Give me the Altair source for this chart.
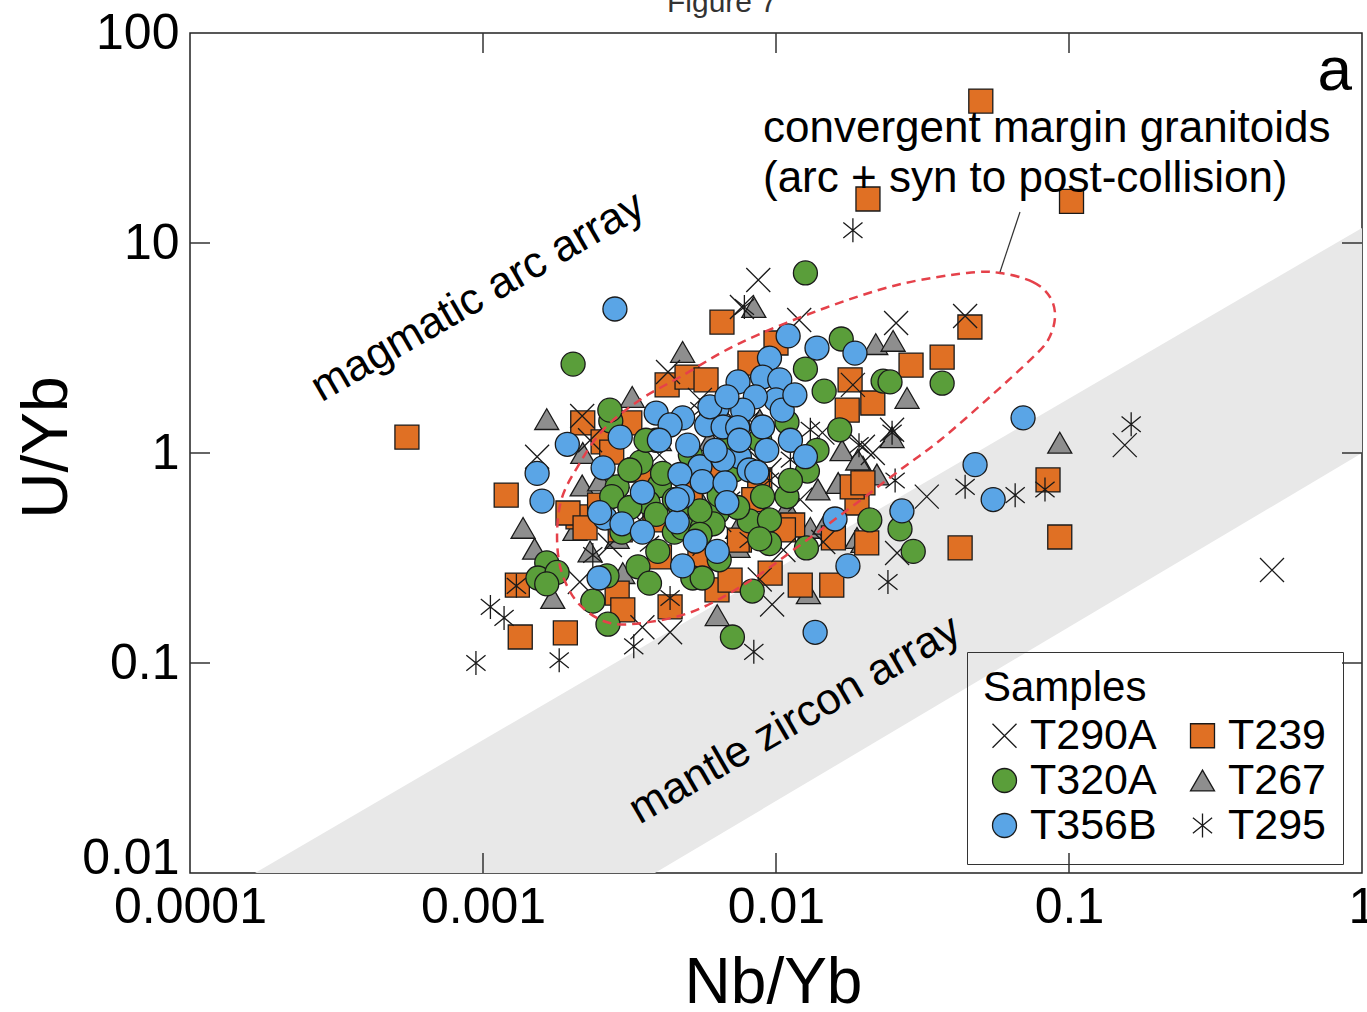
import altair as alt
import pandas as pd

# ---------------- data ----------------
T267_x = [0.00165, 0.00323, 0.0048, 0.0084, 0.0219, 0.0251, 0.028, 0.0249, 0.093, 0.00219,
          0.00218, 0.00137, 0.0015, 0.00173, 0.00206, 0.00287, 0.0030, 0.00232, 0.0063, 0.0168,
          0.0198, 0.0221, 0.0139, 0.0163, 0.0131, 0.0147, 0.0189, 0.0129, 0.00742, 0.0109,
          0.0198, 0.019, 0.0074, 0.0040, 0.0055, 0.00595, 0.0034, 0.0064, 0.0088, 0.0025]
T267_y = [1.45, 1.85, 3.03, 4.96, 3.30, 3.42, 1.83, 1.19, 1.12, 1.0,
          0.70, 0.44, 0.35, 0.204, 0.43, 0.394, 0.268, 0.34, 0.169, 1.03,
          0.86, 0.79, 0.67, 0.72, 0.44, 0.46, 0.394, 0.215, 0.357, 0.55,
          0.377, 0.93, 0.44, 1.15, 0.60, 1.15, 0.60, 0.60, 1.44, 0.74]

T239_x = [0.00055, 0.0012, 0.00131, 0.00134, 0.00191, 0.00219, 0.00257, 0.00275, 0.00317, 0.00211,
          0.00195, 0.00287, 0.0030, 0.00435, 0.00425, 0.00497, 0.00577, 0.00654, 0.00815, 0.010,
          0.00629, 0.00697, 0.00955, 0.0121, 0.0155, 0.0114, 0.0106, 0.0157, 0.0204, 0.0189,
          0.0182, 0.0179, 0.0214, 0.0175, 0.0206, 0.050, 0.102, 0.0459, 0.0369, 0.0289,
          0.0425, 0.0848, 0.093, 0.0198, 0.00343, 0.00386, 0.0055, 0.0075, 0.0051, 0.00294,
          0.0088, 0.0025, 0.00223, 0.0064, 0.0084, 0.0040]
T239_y = [1.19, 0.63, 0.235, 0.133, 0.139, 1.39, 1.13, 1.01, 1.39, 0.496,
          0.518, 0.215, 0.179, 0.185, 2.11, 2.30, 2.23, 4.2, 2.68, 3.34,
          0.223, 0.248, 0.268, 0.235, 0.235, 0.454, 0.43, 0.394, 0.373, 0.578,
          0.689, 2.23, 1.73, 1.60, 16.2, 47.4, 15.8, 3.98, 2.86, 2.62,
          0.353, 0.744, 0.398, 0.72, 0.83, 0.48, 0.31, 0.385, 0.67, 0.43,
          0.744, 0.565, 0.44, 0.83, 0.60, 0.32]

T290A_x = [0.0087, 0.00765, 0.012, 0.0257, 0.0442, 0.00428, 0.00218, 0.00153, 0.0183, 0.0249,
           0.0198, 0.0327, 0.155, 0.493, 0.0097, 0.00435, 0.0035, 0.0145, 0.00214, 0.0106,
           0.0259, 0.0095, 0.0121, 0.0081, 0.0064, 0.0051, 0.00343, 0.00271, 0.0088, 0.0144,
           0.0214, 0.00232, 0.0055, 0.0040, 0.0075, 0.0057]
T290A_y = [6.67, 4.96, 4.3, 4.16, 4.49, 2.43, 1.50, 0.96, 2.11, 1.29,
           1.07, 0.62, 1.09, 0.277, 0.19, 0.14, 0.148, 0.377, 0.243, 0.345,
           0.334, 0.83, 0.60, 1.03, 0.48, 0.43, 0.48, 0.365, 0.25, 1.25,
           1.0, 1.15, 1.79, 0.98, 1.36, 0.37]

T295_x = [0.0183, 0.163, 0.0828, 0.0655, 0.0442, 0.0255, 0.0241, 0.0084, 0.00327, 0.00182,
          0.000946, 0.00106, 0.00118, 0.0013, 0.00435, 0.00237, 0.0249, 0.0078, 0.0192, 0.0095,
          0.0112, 0.0070, 0.0055, 0.00294, 0.0131, 0.0081, 0.0081, 0.0037]
T295_y = [11.5, 1.37, 0.67, 0.63, 0.69, 0.74, 0.243, 0.113, 0.12, 0.103,
          0.1, 0.185, 0.164, 0.233, 0.204, 0.327, 1.25, 4.96, 1.09, 0.74,
          0.93, 0.60, 1.60, 0.74, 1.29, 0.385, 1.44, 0.37]

T320A_x = [0.00203, 0.0126, 0.0167, 0.0232, 0.0369, 0.0126, 0.0146, 0.0165, 0.0109, 0.0138,
           0.0128, 0.0209, 0.0265, 0.0294, 0.0071, 0.0083, 0.00267, 0.00237, 0.00165, 0.00154,
           0.00179, 0.00165, 0.00273, 0.00346, 0.0040, 0.00366, 0.0039, 0.0045, 0.00338, 0.00395,
           0.00265, 0.0052, 0.0056, 0.00298, 0.0090, 0.0109, 0.0081, 0.0095, 0.0127, 0.0048,
           0.0056, 0.0063, 0.0074, 0.0039, 0.0041, 0.00287, 0.00275, 0.00317, 0.00271, 0.0061,
           0.0245, 0.0051, 0.0070, 0.0045, 0.0088, 0.0072, 0.0095, 0.0036, 0.0064, 0.0047,
           0.0055, 0.0064, 0.0037, 0.0088, 0.0112, 0.00317, 0.0055]
T320A_y = [2.65, 7.2, 3.49, 2.20, 2.15, 2.51, 1.97, 1.29, 1.40, 1.03,
           0.82, 0.48, 0.435, 0.34, 0.133, 0.22, 0.153, 0.197, 0.30, 0.254,
           0.27, 0.238, 1.42, 0.905, 0.70, 0.58, 0.51, 0.42, 0.287, 0.34,
           0.26, 0.254, 0.254, 0.42, 0.62, 0.62, 0.475, 0.37, 0.353, 0.44,
           0.44, 0.52, 0.55, 1.15, 0.80, 0.69, 0.62, 0.55, 1.60, 0.46,
           2.18, 0.98, 1.15, 0.60, 1.15, 0.83, 0.48, 1.15, 0.63, 0.56,
           0.53, 0.31, 0.24, 0.39, 0.74, 0.83, 0.41]

T356B_x = [0.00282, 0.011, 0.0138, 0.0186, 0.0095, 0.00742, 0.0090, 0.0103, 0.010, 0.0085,
           0.0077, 0.0063, 0.0048, 0.0039, 0.00435, 0.0058, 0.0066, 0.0074, 0.0090, 0.0112,
           0.0126, 0.0093, 0.0075, 0.0066, 0.0081, 0.0055, 0.0047, 0.0056, 0.0067, 0.0068,
           0.0035, 0.00257, 0.00294, 0.00194, 0.00153, 0.00159, 0.00261, 0.00298, 0.0035, 0.0046,
           0.0053, 0.0063, 0.0048, 0.00249, 0.0159, 0.0176, 0.0136, 0.0269, 0.0478, 0.0551,
           0.0697, 0.0050, 0.00595, 0.0086, 0.0105, 0.0116, 0.0068, 0.0075, 0.0048, 0.0025,
           0.0046, 0.0040, 0.0062]
T356B_y = [4.85, 3.61, 3.16, 2.99, 2.83, 2.18, 2.30, 2.23, 1.79, 1.85,
           1.60, 1.64, 1.47, 1.55, 1.36, 1.36, 1.33, 1.32, 1.33, 1.15,
           0.96, 1.03, 0.96, 0.93, 0.83, 0.86, 0.79, 0.73, 0.72, 0.58,
           0.65, 0.85, 1.19, 1.10, 0.80, 0.59, 0.49, 0.46, 0.42, 0.47,
           0.38, 0.34, 0.29, 0.254, 0.485, 0.29, 0.14, 0.53, 0.88, 0.60,
           1.47, 1.09, 1.66, 0.81, 1.60, 1.89, 1.85, 1.15, 0.62, 0.52,
           0.60, 1.15, 1.03]

# convergent-margin field outline (dashed)
FIELD_x = [0.0582, 0.0754, 0.0861, 0.0896, 0.0848, 0.0736, 0.0537, 0.0363, 0.0265, 0.0179,
           0.0121, 0.00815, 0.00537, 0.00372, 0.00271, 0.00214, 0.00187, 0.00179, 0.00185, 0.00211,
           0.00257, 0.00343, 0.0047, 0.00754, 0.0141, 0.0259, 0.0449]
FIELD_y = [7.2, 6.52, 5.53, 4.44, 3.45, 2.77, 1.85, 1.15, 0.83, 0.547,
           0.365, 0.246, 0.179, 0.157, 0.155, 0.189, 0.262, 0.385, 0.597, 0.867,
           1.29, 1.79, 2.30, 3.34, 4.8, 6.31, 7.2]

# mantle zircon array band
BAND_x = [1.667e-4, 0.00386, 1.0]
BAND_upper = [0.01, 0.129, 11.8]
BAND_lower = [0.01, 0.01, 1.0]

X_TICKS = [0.0001, 0.001, 0.01, 0.1, 1]
Y_TICKS = [0.01, 0.1, 1, 10, 100]
X_INNER = [0.001, 0.01, 0.1]
Y_INNER = [0.1, 1, 10]

# legend fills column by column
LEG_ORDER = ["T290A", "T320A", "T356B", "T239", "T267", "T295"]

# ---------------- styling ----------------
W, H = 1172, 840
FONT = "Liberation Sans"
X_PATH = "M-1,-1L1,1M-1,1L1,-1"
AST_PATH = "M0,-1L0,1M-0.8,-0.65L0.8,0.65M-0.8,0.65L0.8,-0.65"
SHAPES = [X_PATH, "circle", "circle", "square", "triangle-up", AST_PATH]
FILLS = ["transparent", "#5A9E3A", "#5AA5E6", "#E07024", "#8E8E8E", "transparent"]
STROKES = ["#1A1A1A"] * 6

series = [("T267", T267_x, T267_y), ("T239", T239_x, T239_y), ("T290A", T290A_x, T290A_y),
          ("T295", T295_x, T295_y), ("T320A", T320A_x, T320A_y), ("T356B", T356B_x, T356B_y)]
rows = []
for name, xs, ys in series:
    for a, b in zip(xs, ys):
        rows.append({"sample": name, "x": a, "y": b})
pts = pd.DataFrame(rows)

band_df = pd.DataFrame({"x": BAND_x, "y": BAND_upper, "y2": BAND_lower})
field_df = pd.DataFrame({"x": FIELD_x, "y": FIELD_y, "i": list(range(len(FIELD_x)))})

xscale = alt.Scale(type="log", domain=[1e-4, 1], nice=False)
yscale = alt.Scale(type="log", domain=[0.01, 100], nice=False)

xaxis = alt.Axis(values=X_TICKS, format="~g", labelFontSize=50, labelPadding=9, labelFlush=False,
                 labelOverlap=False, labelColor="black", labelFont=FONT, ticks=False, tickSize=0,
                 domain=False, grid=False, title="Nb/Yb", titleFontSize=64, titleFont=FONT,
                 titleFontWeight="normal", titleColor="black", titleBaseline="alphabetic",
                 titleY=129, titleX=583)
yaxis = alt.Axis(values=Y_TICKS, format="~g", labelFontSize=50, labelPadding=11,
                 labelBaseline={"condition": {"test": "datum.value < 0.011", "value": "alphabetic"},
                                "value": "middle"},
                 labelOverlap=False, labelColor="black", labelFont=FONT, ticks=False, tickSize=0,
                 domain=False, grid=False, title="U/Yb", titleFontSize=64, titleFont=FONT,
                 titleFontWeight="normal", titleColor="black", titleBaseline="alphabetic",
                 titleAngle=270, titleX=-124, titleY=414)


def X():
    return alt.X("x:Q", scale=xscale, axis=xaxis)


def Y():
    return alt.Y("y:Q", scale=yscale, axis=yaxis)


band = alt.Chart(band_df).mark_area(color="#E8E8E8", clip=True).encode(
    x=X(), y=Y(), y2="y2:Q")

leg = alt.Legend(title="Samples", orient="none", legendX=777, legendY=619, columns=2,
                 padding=16, strokeColor="#333", symbolSize=576, symbolStrokeColor="#1A1A1A",
                 symbolStrokeWidth=1.3, labelFontSize=43, titleFontSize=42,
                 titleFontWeight="normal", labelFont=FONT, titleFont=FONT, labelOffset=4,
                 columnPadding=24, rowPadding=1, titlePadding=4, labelColor="black",
                 titleColor="black")

points = alt.Chart(pts).mark_point(filled=True, opacity=1, size=576, strokeWidth=1.3).encode(
    x=X(), y=Y(),
    fill=alt.Fill("sample:N", scale=alt.Scale(domain=LEG_ORDER, range=FILLS), legend=leg),
    shape=alt.Shape("sample:N", scale=alt.Scale(domain=LEG_ORDER, range=SHAPES), legend=leg),
    stroke=alt.Stroke("sample:N", scale=alt.Scale(domain=LEG_ORDER, range=STROKES), legend=leg),
)

field = alt.Chart(field_df).mark_line(color="#E5414A", strokeWidth=2.5, strokeDash=[9, 6],
                                      interpolate="cardinal-closed").encode(
    x=X(), y=Y(), order="i:Q")

one = pd.DataFrame({"d": [0]})
leader = alt.Chart(one).mark_rule(color="#333", strokeWidth=1.2).encode(
    x=alt.value(830), y=alt.value(179), x2=alt.value(810), y2=alt.value(239))


def label(text, x, y, size=44, angle=0, align="left", baseline="alphabetic", color="black"):
    return alt.Chart(one).mark_text(text=text, fontSize=size, font=FONT, angle=angle,
                                    align=align, baseline=baseline, color=color).encode(
        x=alt.value(x), y=alt.value(y))


texts = [
    label("magmatic arc array", 288, 264, angle=330, align="center", baseline="middle"),
    label("mantle zircon array", 605, 687, angle=330, align="center", baseline="middle"),
    label("convergent margin granitoids", 573, 109),
    label("(arc + syn to post-collision)", 573, 159),
    label("a", 1162, 57, size=62, align="right"),
    label("Figure 7", 532, -21, size=30, align="center", color="#333"),
]

xt_df = pd.DataFrame({"x": X_INNER})
yt_df = pd.DataFrame({"y": Y_INNER})
tick_top = alt.Chart(xt_df).mark_rule(color="#333", strokeWidth=1.5).encode(
    x=X(), y=alt.value(0), y2=alt.value(20))
tick_bot = alt.Chart(xt_df).mark_rule(color="#333", strokeWidth=1.5).encode(
    x=X(), y=alt.value(H), y2=alt.value(H - 20))
tick_left = alt.Chart(yt_df).mark_rule(color="#333", strokeWidth=1.5).encode(
    y=Y(), x=alt.value(0), x2=alt.value(20))
tick_right = alt.Chart(yt_df).mark_rule(color="#333", strokeWidth=1.5).encode(
    y=Y(), x=alt.value(W), x2=alt.value(W - 20))

chart = alt.layer(band, points, field, leader, *texts, tick_top, tick_bot, tick_left, tick_right).properties(
    width=W, height=H, autosize="none",
    padding={"left": 190, "top": 33, "right": 5, "bottom": 139},
).configure_view(stroke="#222", strokeWidth=1.5)

chart.save("out.html", embed_options={"renderer": "svg", "actions": False})
